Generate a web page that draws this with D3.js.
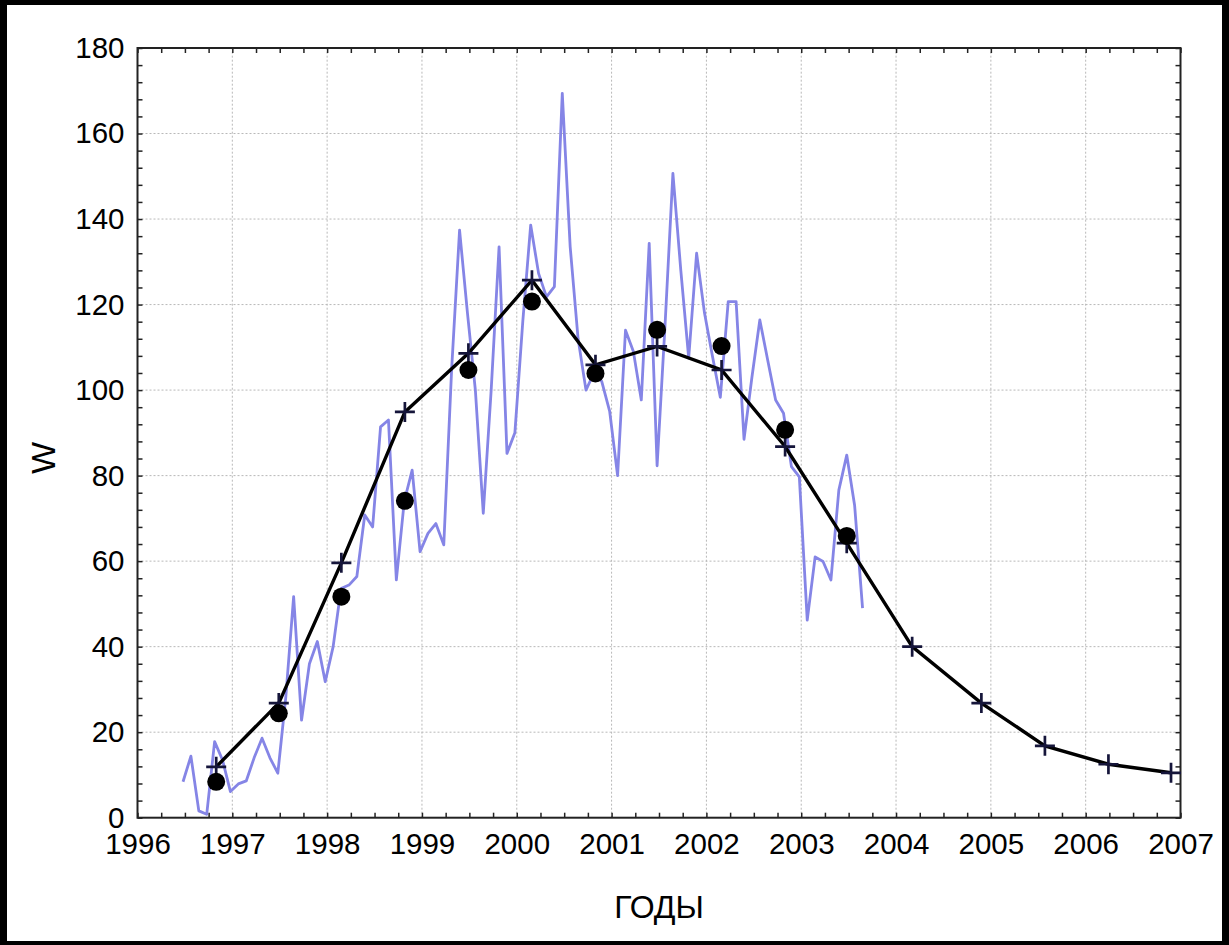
<!DOCTYPE html>
<html>
<head>
<meta charset="utf-8">
<script src="https://cdn.jsdelivr.net/npm/d3@7"></script>
<style>
  html, body { margin: 0; padding: 0; background: #000; }
  svg { display: block; }
  text { font-family: "Liberation Sans", Arial, sans-serif; fill: #000; }
</style>
</head>
<body>
<svg id="chart" width="1229" height="945"></svg>
<script>
// Monthly Wolf numbers, first value at mid-1996, one value per month
const monthlyStart = 1996.48;
const monthlyW = [
  8.4, 14.4, 1.6, 0.8, 17.8, 13.5, 6.1, 7.9, 8.6, 14, 18.6, 14,
  10.4, 28, 51.7, 22.8, 36, 41.2, 31.8, 40, 53.6, 54.4, 56.4, 70.8,
  68, 91.4, 93, 55.6, 74, 81.3, 62.2, 66.5, 68.8, 63.8, 105, 137.4,
  118, 100, 71.2, 100, 133.5, 85.2, 90, 116, 138.6, 127.3, 121.8, 124.2,
  169.4, 133.5, 112, 100, 104, 102, 95, 80, 114, 109, 97.7, 134.3,
  82.3, 115, 150.7, 128, 107.5, 132, 118, 108, 98.3, 120.7, 120.7, 88.5,
  103, 116.4, 107, 97.7, 94.6, 82.1, 79.7, 46.2, 61, 59.9, 55.6, 76.6,
  84.8, 73, 49
];

// Smoothed cycle (line with crosses), dates in fractional years
const smoothYears = [1996.83, 1997.49, 1998.15, 1998.82, 1999.49, 2000.16, 2000.83, 2001.48,
                     2002.16, 2002.83, 2003.48, 2004.17, 2004.90, 2005.57, 2006.24, 2006.90];
const smoothW = [11.9, 26.8, 59.6, 94.9, 108.6, 125.7, 105.9, 110.2,
                 104.7, 86.8, 64.2, 40.0, 26.8, 16.8, 12.5, 10.5];

// Period averages (filled circles)
const meanYears = smoothYears.slice(0, 11);
const meanW = [8.4, 24.4, 51.7, 74.1, 104.7, 120.7, 103.9, 114.1, 110.3, 90.7, 65.9];

// Axis ticks
const yearTicks = d3.range(1996, 2008);
const wTicks = d3.range(0, 181, 20);
const xTitle = "ГОДЫ";
const yTitle = "W";

const svg = d3.select("#chart");

// page panel
svg.append("rect").attr("x", 7).attr("y", 5).attr("width", 1215).attr("height", 936).attr("fill", "#fff");

const x = d3.scaleLinear().domain([1996, 2007]).range([137.5, 1180.5]);
const y = d3.scaleLinear().domain([0, 180]).range([817.7, 48]);
const [x0, x1] = x.range();
const [y0, y1] = y.range();

// grid
const grid = svg.append("g").attr("stroke", "#b8b8b8").attr("stroke-width", 1).attr("stroke-dasharray", "2,2");
grid.selectAll("line.gx").data(yearTicks.slice(1, -1)).join("line")
  .attr("x1", d => x(d)).attr("x2", d => x(d)).attr("y1", y0).attr("y2", y1);
grid.selectAll("line.gy").data(wTicks.slice(1, -1)).join("line")
  .attr("y1", d => y(d)).attr("y2", d => y(d)).attr("x1", x0).attr("x2", x1);

// axes with inward ticks on all four sides
const xMinor = d3.range(1996, 2007.01, 0.25);
const yMinor = d3.range(0, 180.01, 4);
const tickLen = 5;
const axisColor = "#222";

function drawAxis(axisGen, transform) {
  const g = svg.append("g").attr("transform", transform).call(axisGen);
  g.select(".domain").remove();
  g.selectAll(".tick line").attr("stroke", axisColor).attr("stroke-width", 1.5);
  return g;
}

drawAxis(d3.axisTop(x).tickValues(xMinor).tickSize(tickLen).tickFormat(""), `translate(0,${y0})`);
drawAxis(d3.axisBottom(x).tickValues(xMinor).tickSize(tickLen).tickFormat(""), `translate(0,${y1})`);
drawAxis(d3.axisRight(y).tickValues(yMinor).tickSize(tickLen).tickFormat(""), `translate(${x0},0)`);
drawAxis(d3.axisLeft(y).tickValues(yMinor).tickSize(tickLen).tickFormat(""), `translate(${x1},0)`);

// tick labels
const labelFont = 29.5;
const xl = drawAxis(d3.axisBottom(x).tickValues(yearTicks).tickSize(0).tickPadding(15).tickFormat(d3.format("d")), `translate(0,${y0})`);
xl.selectAll("text").attr("font-size", labelFont).attr("font-family", "Liberation Sans, Arial, sans-serif").attr("fill", "#000");
const yl = drawAxis(d3.axisLeft(y).tickValues(wTicks).tickSize(0).tickPadding(13).tickFormat(d3.format("d")), `translate(${x0},0)`);
yl.selectAll("text").attr("font-size", labelFont).attr("font-family", "Liberation Sans, Arial, sans-serif").attr("fill", "#000");

// frame
svg.append("rect").attr("x", x0).attr("y", y1).attr("width", x1 - x0).attr("height", y0 - y1)
  .attr("fill", "none").attr("stroke", axisColor).attr("stroke-width", 2);

// monthly series
const monthly = monthlyW.map((v, i) => [monthlyStart + i / 12, v]);
svg.append("path").datum(monthly)
  .attr("fill", "none").attr("stroke", "#8585e6").attr("stroke-width", 2.8).attr("stroke-linejoin", "round")
  .attr("d", d3.line().x(d => x(d[0])).y(d => y(d[1])));

// smoothed series
const smooth = smoothYears.map((t, i) => [t, smoothW[i]]);
svg.append("path").datum(smooth)
  .attr("fill", "none").attr("stroke", "#000").attr("stroke-width", 3.4)
  .attr("d", d3.line().x(d => x(d[0])).y(d => y(d[1])));

const arm = 10;
svg.append("g").attr("stroke", "#15153a").attr("stroke-width", 2.7)
  .selectAll("path").data(smooth).join("path")
  .attr("d", d => {
    const cx = x(d[0]), cy = y(d[1]);
    return `M${cx - arm},${cy}H${cx + arm}M${cx},${cy - arm}V${cy + arm}`;
  });

// period averages
svg.append("g").selectAll("circle").data(meanYears.map((t, i) => [t, meanW[i]])).join("circle")
  .attr("cx", d => x(d[0])).attr("cy", d => y(d[1])).attr("r", 9).attr("fill", "#000");

// titles
svg.append("text").attr("x", (x0 + x1) / 2).attr("y", 918).attr("text-anchor", "middle")
  .attr("font-size", 32).text(xTitle);
svg.append("text").attr("transform", "translate(55,458) rotate(-90)").attr("text-anchor", "middle")
  .attr("font-size", 34).text(yTitle);
</script>
</body>
</html>
